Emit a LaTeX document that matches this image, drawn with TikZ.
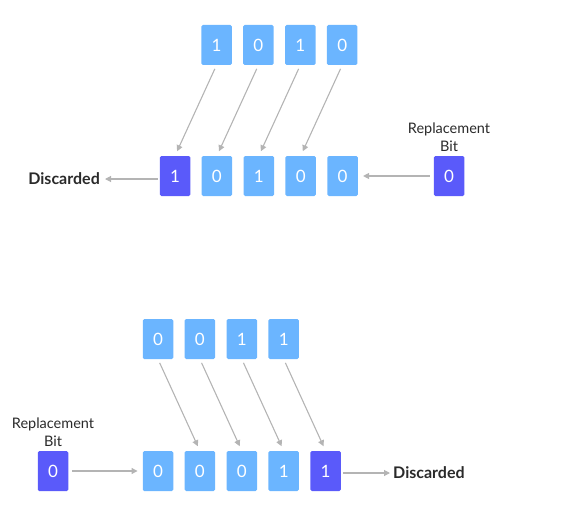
\documentclass[tikz,border=0pt]{standalone}
\usepackage{fontspec}
\setmainfont{Lato}
\usepackage{xcolor}
\usepackage{tikz}
\usetikzlibrary{arrows.meta,positioning}
\definecolor{bitlight}{HTML}{6BB5FF}
\definecolor{bitdark}{HTML}{5A5AFA}
\definecolor{arrowgray}{HTML}{B4B4B4}
\definecolor{inkgray}{HTML}{2A2A2A}
\tikzset{
  bitbox/.style={fill=bitlight,rounded corners=1.5pt,minimum width=30.5pt,minimum height=40pt,inner sep=0pt,text=white,font=\fontsize{17}{20}\selectfont},
  darkbit/.style={bitbox,fill=bitdark},
  shiftarrow/.style={-{Triangle[length=6pt,width=6pt]},draw=arrowgray,line width=1.1pt},
  tagnode/.style={inner sep=0pt,text=inkgray,font=\fontsize{16}{20}\selectfont\bfseries},
  repnode/.style={inner sep=0pt,text=inkgray,align=center,font=\fontsize{14.5}{18}\selectfont},
}

\begin{document}
\begin{tikzpicture}[x=1pt,y=-1pt,node distance=11pt]
    \useasboundingbox (0,0) rectangle (575,532);
    % left shift
    \node[bitbox] (t1) at (216.5,45) {1};
    \node[bitbox,right=of t1] (t2) {0};
    \node[bitbox,right=of t2] (t3) {1};
    \node[bitbox,right=of t3] (t4) {0};
    \node[darkbit] (b1) at (175,176) {1};
    \node[bitbox,right=of b1] (b2) {0};
    \node[bitbox,right=of b2] (b3) {1};
    \node[bitbox,right=of b3] (b4) {0};
    \node[bitbox,right=of b4] (b5) {0};
    \node[darkbit] (r1) at (449,176) {0};
    \node[repnode,above=4pt of r1] (rl1) {Replacement\\Bit};
    \node[tagnode,anchor=east] (d1) at (100,179) {Discarded};
    \draw[shiftarrow,shorten <=4pt,shorten >=5pt] (t1.south)--(b1.north); \draw[shiftarrow,shorten <=4pt,shorten >=5pt] (t2.south)--(b2.north);
    \draw[shiftarrow,shorten <=4pt,shorten >=5pt] (t3.south)--(b3.north); \draw[shiftarrow,shorten <=4pt,shorten >=5pt] (t4.south)--(b4.north);
    \draw[shiftarrow,shorten <=2pt,shorten >=5pt] (b1.west|-d1)--(d1.east);
    \draw[shiftarrow,shorten <=4pt,shorten >=5pt] (r1.west)--(b5.east);
    % right shift
    \node[bitbox] (u1) at (158,339) {0};
    \node[bitbox,right=of u1] (u2) {0};
    \node[bitbox,right=of u2] (u3) {1};
    \node[bitbox,right=of u3] (u4) {1};
    \node[bitbox] (v1) at (158,471) {0};
    \node[bitbox,right=of v1] (v2) {0};
    \node[bitbox,right=of v2] (v3) {0};
    \node[bitbox,right=of v3] (v4) {1};
    \node[darkbit,right=of v4] (v5) {1};
    \node[darkbit] (r2) at (53,471) {0};
    \node[repnode,above=4pt of r2] (rl2) {Replacement\\Bit};
    \node[tagnode,anchor=west] (d2) at (393,473) {Discarded};
    \draw[shiftarrow,shorten <=4pt,shorten >=5pt] (u1.south)--(v2.north); \draw[shiftarrow,shorten <=4pt,shorten >=5pt] (u2.south)--(v3.north);
    \draw[shiftarrow,shorten <=4pt,shorten >=5pt] (u3.south)--(v4.north); \draw[shiftarrow,shorten <=4pt,shorten >=5pt] (u4.south)--(v5.north);
    \draw[shiftarrow,shorten <=4pt,shorten >=5pt] (r2.east)--(v1.west);
    \draw[shiftarrow,shorten <=2pt,shorten >=3pt] (v5.east|-d2)--(d2.west);
  \end{tikzpicture}
\end{document}
